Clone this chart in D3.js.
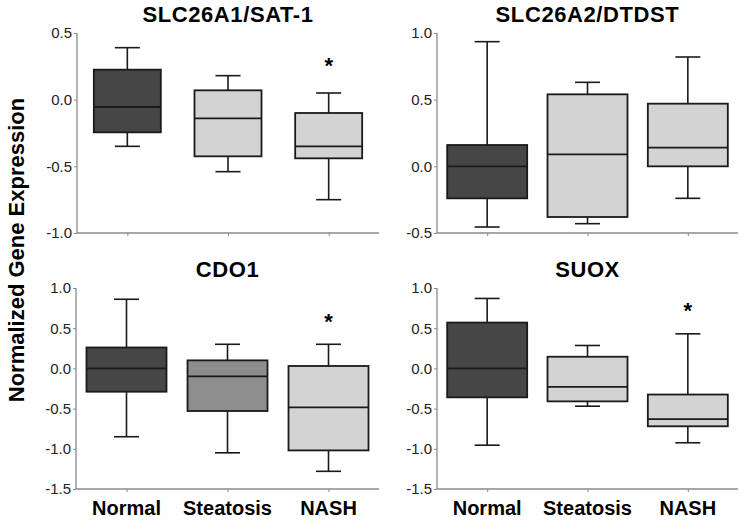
<!DOCTYPE html>
<html lang="en">
<head>
<meta charset="UTF-8">
<title>Normalized Gene Expression</title>
<style>
  body { margin: 0; background: #fff; }
  svg text { font-family: "Liberation Sans", Arial, sans-serif; }
</style>
</head>
<body>
<script src="https://d3js.org/d3.v7.min.js"></script>
<script>
// categories and panel titles
var groups = ["Normal", "Steatosis", "NASH"];
var titles = ["SLC26A1/SAT-1", "SLC26A2/DTDST", "CDO1", "SUOX"];

// box stats per group: [whiskerLow, q1, median, q3, whiskerHigh]
var sat1  = [[-0.35, -0.245, -0.055, 0.225, 0.39], [-0.54, -0.425, -0.14, 0.07, 0.18], [-0.75, -0.44, -0.35, -0.10, 0.05]];
var dtdst = [[-0.455, -0.24, 0.0, 0.16, 0.935], [-0.43, -0.38, 0.09, 0.54, 0.63], [-0.24, 0.0, 0.14, 0.47, 0.82]];
var cdo1  = [[-0.85, -0.29, 0.0, 0.26, 0.86], [-1.05, -0.53, -0.10, 0.10, 0.30], [-1.28, -1.02, -0.485, 0.03, 0.30]];
var suox  = [[-0.955, -0.36, 0.0, 0.57, 0.87], [-0.47, -0.41, -0.23, 0.145, 0.285], [-0.925, -0.72, -0.63, -0.325, 0.43]];

// y domains and tick values
var yDomains = [[-1, 0.5], [-0.5, 1.0], [-1.5, 1.0], [-1.5, 1.0]];
var yTicks = [[-1, -0.5, 0, 0.5], [-0.5, 0, 0.5, 1.0], [-1.5, -1, -0.5, 0, 0.5, 1.0], [-1.5, -1, -0.5, 0, 0.5, 1.0]];

// significance stars (value where the * sits, null = none)
var stars = [[null, null, 0.29], [null, null, null], [null, null, 0.64], [null, null, 0.77]];

// fill colours per panel/group
var fills = [
  ["#464646", "#d3d3d3", "#d3d3d3"],
  ["#464646", "#d3d3d3", "#d3d3d3"],
  ["#464646", "#8d8d8d", "#d3d3d3"],
  ["#464646", "#d3d3d3", "#d3d3d3"]
];

var allData = [sat1, dtdst, cdo1, suox];

// panel frames
var frames = [
  { left: 77,  right: 379, top: 33,  bottom: 233, boxW: 67 },
  { left: 437, right: 738, top: 33,  bottom: 233, boxW: 80 },
  { left: 76,  right: 379, top: 288, bottom: 489, boxW: 80 },
  { left: 437, right: 738, top: 288, bottom: 489, boxW: 80 }
];

var svg = d3.select("body").append("svg")
  .attr("width", 740)
  .attr("height", 521);

frames.forEach(function(f, p) {
  var g = svg.append("g");
  var x = d3.scalePoint().domain(groups).range([f.left, f.right]).padding(0.5);
  var y = d3.scaleLinear().domain(yDomains[p]).range([f.bottom, f.top]);

  // y axis
  var ya = g.append("g")
    .attr("transform", "translate(" + f.left + ",0)")
    .call(d3.axisLeft(y).tickValues(yTicks[p]).tickSize(3).tickPadding(2).tickFormat(d3.format(".1f")));
  ya.select(".domain").attr("stroke", "#8a8a8a").attr("stroke-width", 1.3).attr("d", "M0," + f.top + "V" + f.bottom);
  ya.selectAll(".tick line").attr("stroke", "#8a8a8a");
  ya.selectAll(".tick text").attr("font-size", 15).attr("fill", "#222")
    .text(function(d) { return d3.format(".1f")(d).replace("−", "-"); });

  // x axis
  var xa = g.append("g")
    .attr("transform", "translate(0," + f.bottom + ")")
    .call(d3.axisBottom(x).tickSize(3).tickFormat(""));
  xa.select(".domain").attr("stroke", "#8a8a8a").attr("stroke-width", 1.3).attr("d", "M" + f.left + ",0H" + f.right);
  xa.selectAll(".tick line").attr("stroke", "#8a8a8a");

  // boxes
  var boxes = g.selectAll(".box").data(allData[p]).enter().append("g").attr("class", "box");
  boxes.append("line")
    .attr("x1", function(d, i) { return x(groups[i]); })
    .attr("x2", function(d, i) { return x(groups[i]); })
    .attr("y1", function(d) { return y(d[4]); })
    .attr("y2", function(d) { return y(d[0]); })
    .attr("stroke", "#1a1a1a").attr("stroke-width", 1.6);
  [0, 4].forEach(function(k) {
    boxes.append("line")
      .attr("x1", function(d, i) { return x(groups[i]) - 12.5; })
      .attr("x2", function(d, i) { return x(groups[i]) + 12.5; })
      .attr("y1", function(d) { return y(d[k]); })
      .attr("y2", function(d) { return y(d[k]); })
      .attr("stroke", "#1a1a1a").attr("stroke-width", 1.6);
  });
  boxes.append("rect")
    .attr("x", function(d, i) { return x(groups[i]) - f.boxW / 2; })
    .attr("width", f.boxW)
    .attr("y", function(d) { return y(d[3]); })
    .attr("height", function(d) { return y(d[1]) - y(d[3]); })
    .attr("fill", function(d, i) { return fills[p][i]; })
    .attr("stroke", "#1a1a1a").attr("stroke-width", 1.8);
  boxes.append("line")
    .attr("x1", function(d, i) { return x(groups[i]) - f.boxW / 2; })
    .attr("x2", function(d, i) { return x(groups[i]) + f.boxW / 2; })
    .attr("y1", function(d) { return y(d[2]); })
    .attr("y2", function(d) { return y(d[2]); })
    .attr("stroke", "#1a1a1a").attr("stroke-width", 1.8);

  // stars
  stars[p].forEach(function(s, i) {
    if (s === null) return;
    g.append("text")
      .attr("x", x(groups[i]))
      .attr("y", y(s) + 12)
      .attr("text-anchor", "middle")
      .attr("font-size", 22).attr("font-weight", "bold")
      .text("*");
  });

  // title
  g.append("text")
    .attr("x", (f.left + f.right) / 2)
    .attr("y", f.top - 11)
    .attr("text-anchor", "middle")
    .attr("font-size", 22).attr("font-weight", "bold")
    .attr("letter-spacing", 0.6)
    .text(titles[p]);

  // category labels under the bottom row
  if (p >= 2) {
    g.selectAll(".cat").data(groups).enter().append("text")
      .attr("x", function(d) { return x(d); })
      .attr("y", 515)
      .attr("text-anchor", "middle")
      .attr("font-size", 20).attr("font-weight", "bold")
      .text(function(d) { return d; });
  }
});

// shared y title
svg.append("text")
  .attr("transform", "translate(24,250) rotate(-90)")
  .attr("text-anchor", "middle")
  .attr("font-size", 22).attr("font-weight", "bold")
  .text("Normalized Gene Expression");
</script>
</body>
</html>
